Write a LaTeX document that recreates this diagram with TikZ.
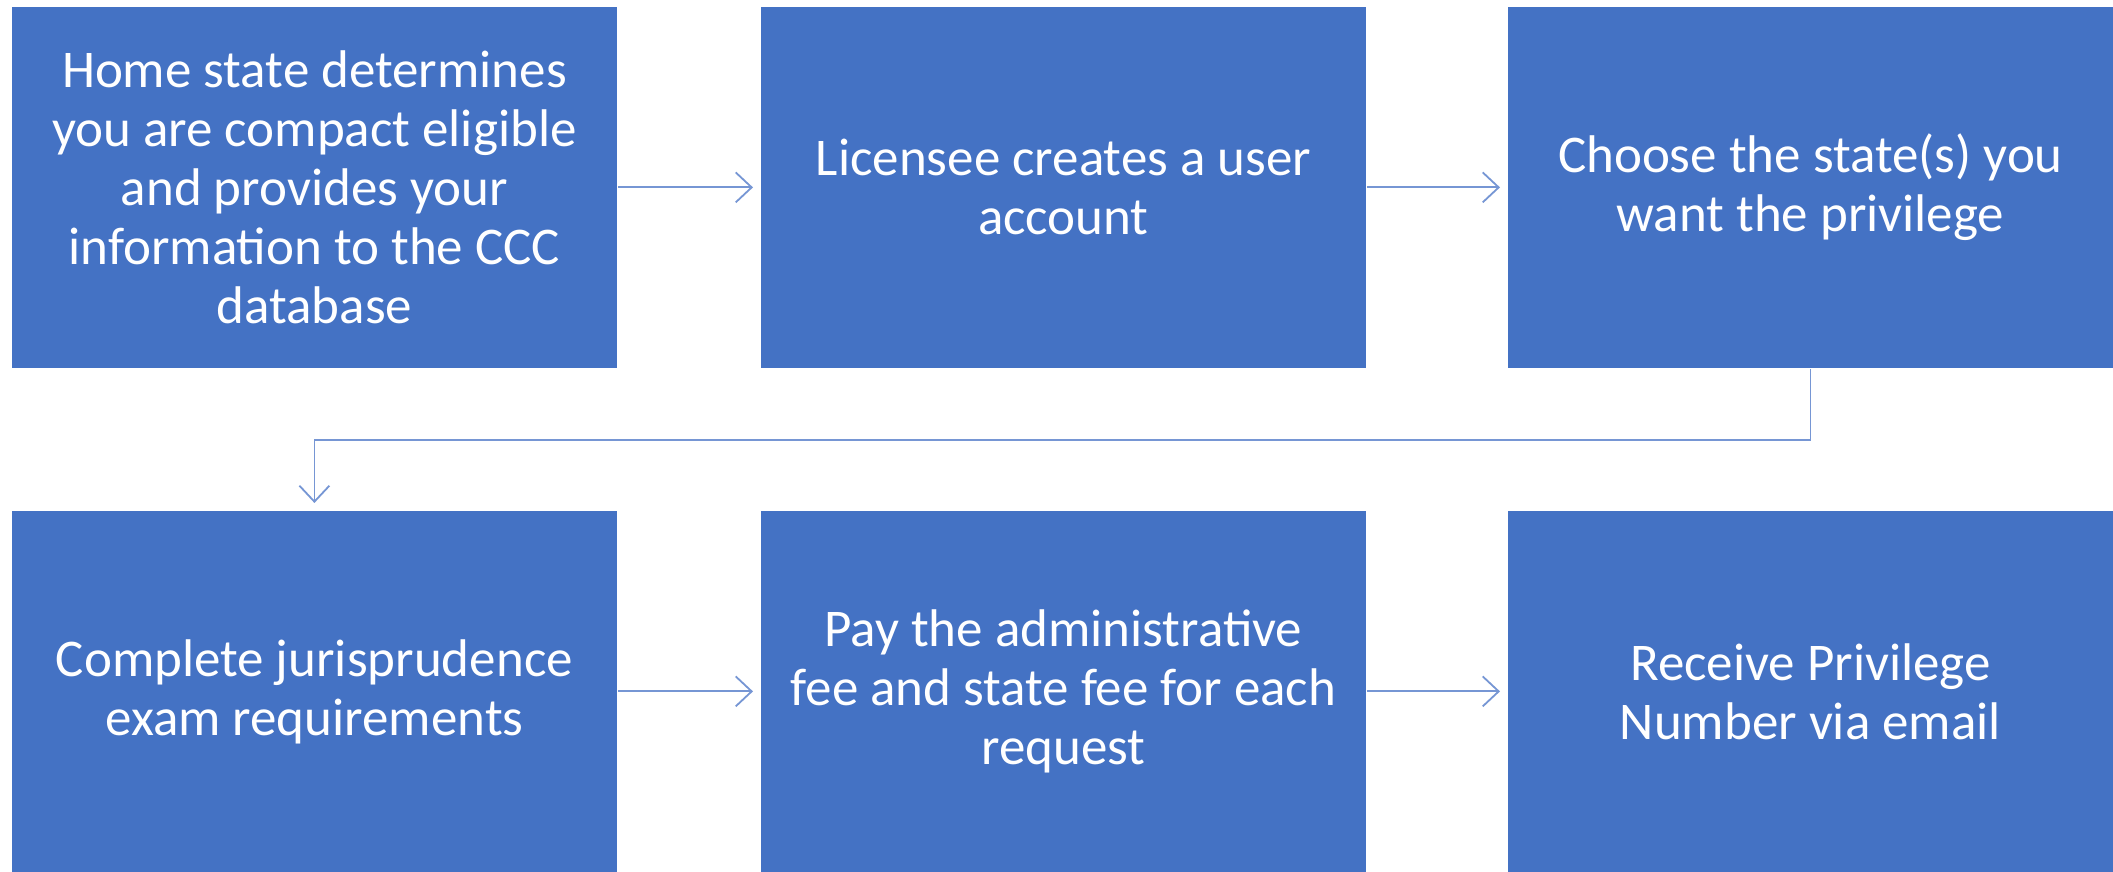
\documentclass[tikz,border=0pt]{standalone}
\usepackage{fontspec}
\setmainfont{Carlito}
\usepackage{tikz}
\usetikzlibrary{arrows.meta}
\definecolor{boxblue}{HTML}{4472C4}
\definecolor{linkblue}{HTML}{7696D4}

\begin{document}
\begin{tikzpicture}[x=1pt,y=1pt,
	stepbox/.style={fill=boxblue, draw=white, line width=0.8pt, anchor=north west,
		minimum width=606pt, minimum height=362pt, inner sep=0pt, align=center,
		text=white, font=\fontsize{53}{59}\selectfont},
	link/.style={draw=linkblue, line width=1.8pt, shorten >=7pt,
		-{Straight Barb[length=16pt,width=30pt,line width=1.8pt]}}]
	\useasboundingbox (0,0) rectangle (2113,872);
	% first row
	\node[stepbox] (home) at (11,866) {Home state determines\\you are compact eligible\\and provides your\\information to the CCC\\database};
	\node[stepbox] (account) at (760,866) {Licensee creates a user\\account};
	\node[stepbox] (choose) at (1507,866) {Choose the state(s) you\\want the privilege};
	% second row
	\node[stepbox] (exam) at (11,362) {Complete jurisprudence\\exam requirements};
	\node[stepbox] (pay) at (760,362) {Pay the administrative\\fee and state fee for each\\request};
	\node[stepbox] (receive) at (1507,362) {Receive Privilege\\Number via email};
	% arrows
	\draw[link] (home) -- (account);
	\draw[link] (account) -- (choose);
	\draw[link] (choose.south) -- ++(0,-71) -| (exam.north);
	\draw[link] (exam) -- (pay);
	\draw[link] (pay) -- (receive);
\end{tikzpicture}
\end{document}
